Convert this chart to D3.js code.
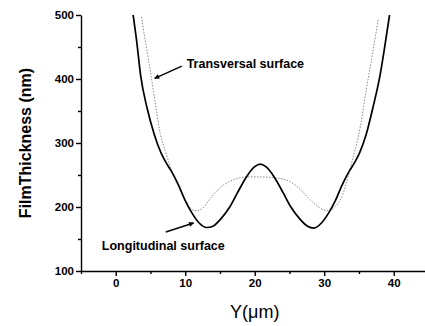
<!DOCTYPE html>
<html>
<head>
<meta charset="utf-8">
<script src="https://cdn.jsdelivr.net/npm/d3@7"></script>
<style>
  body { margin: 0; background: #fff; }
  svg { display: block; font-family: Arial, "Liberation Sans", sans-serif; }
</style>
</head>
<body>
<svg id="chart"></svg>
<script>
// film thickness (nm) vs Y (um)
const longitudinalY = [2.5, 3.0, 3.6, 4.5, 5.5, 6.5, 7.2, 8.0, 9.0, 10.0, 11.0, 12.0, 13.1, 14.0, 15.0, 16.4, 17.5, 18.8, 20.0, 20.8,
  21.6, 22.8, 24.1, 25.2, 26.6, 27.6, 28.5, 29.6, 30.6, 31.6, 32.6, 33.6, 34.4, 35.1, 36.0, 37.0, 38.0, 38.7, 39.4];
const longitudinalT = [500, 460, 404, 355, 315, 285, 270, 256, 235, 210, 190, 175, 168, 170, 180, 200, 222, 247, 263, 267,
  263, 247, 222, 200, 180, 170, 167, 175, 190, 210, 235, 256, 270, 285, 312, 355, 404, 450, 500];

const transversalY = [3.7, 4.4, 5.1, 5.8, 6.4, 7.2, 8.3, 9.5, 10.5, 11.4, 12.5, 13.5, 15.0, 16.4, 17.6, 19.0, 20.75,
  22.5, 24.0, 25.0, 26.5, 28.0, 29.3, 30.6, 31.5, 32.5, 33.5, 34.2, 34.7, 35.2, 36.0, 36.8, 37.8];
const transversalT = [497, 450, 404, 355, 315, 285, 250, 222, 202, 194, 198, 212, 230, 240, 245, 247, 247,
  246, 244, 240, 228, 211, 199, 194, 200, 215, 250, 280, 300, 326, 380, 430, 495];

const xTicks = [0, 10, 20, 30, 40];
const yTicks = [100, 200, 300, 400, 500];

// labels: text anchor and arrow tail -> tip, in data units
const labels = [
  { text: 'Transversal surface', x: 10.2, y: 417, from: [9.5, 420], to: [5.6, 401] },
  { text: 'Longitudinal surface', x: -2.0, y: 133, from: [7.2, 161], to: [11.2, 175] }
];

const W = 425, H = 326;
const margin = { top: 15, left: 81, bottom: 55 };

const svg = d3.select('#chart').attr('width', W).attr('height', H);

const x = d3.scaleLinear().domain([-5, 44.5]).range([margin.left, W]);
const y = d3.scaleLinear().domain([100, 500]).range([H - margin.bottom, margin.top]);

svg.append('defs').append('marker')
  .attr('id', 'head')
  .attr('viewBox', '0 0 10 10')
  .attr('refX', 9).attr('refY', 5)
  .attr('markerWidth', 7).attr('markerHeight', 5)
  .attr('markerUnits', 'userSpaceOnUse')
  .attr('orient', 'auto')
  .append('path').attr('d', 'M0,0L10,5L0,10Z').attr('fill', '#000');

// minor ticks
const minorX = d3.range(-5, 45, 5).filter(v => !xTicks.includes(v));
const minorY = d3.range(150, 500, 100);

const xAxis = d3.axisBottom(x).tickValues(xTicks).tickSize(5).tickPadding(3).tickSizeOuter(0);
const yAxis = d3.axisLeft(y).tickValues(yTicks).tickSize(5).tickPadding(2).tickSizeOuter(0);

svg.append('g').attr('transform', `translate(0,${y(100)})`).call(xAxis);
svg.append('g').attr('transform', `translate(${x(-5)},0)`).call(yAxis);

svg.append('g').attr('transform', `translate(0,${y(100)})`)
  .call(d3.axisBottom(x).tickValues(minorX).tickSize(3).tickFormat(''))
  .call(g => g.select('.domain').remove());
svg.append('g').attr('transform', `translate(${x(-5)},0)`)
  .call(d3.axisLeft(y).tickValues(minorY).tickSize(3).tickFormat(''))
  .call(g => g.select('.domain').remove());

svg.selectAll('.domain, .tick line').attr('stroke', '#000').attr('stroke-width', 1.4);
svg.selectAll('.tick text')
  .attr('font-size', 11.5)
  .attr('font-weight', 'bold')
  .attr('fill', '#000');
svg.selectAll('text').attr('font-family', 'Arial, "Liberation Sans", sans-serif');

// axis titles
svg.append('text')
  .attr('x', x(20)).attr('y', 318)
  .attr('text-anchor', 'middle')
  .attr('font-size', 18)
  .text('Y(\u03bcm)');

svg.append('text')
  .attr('transform', `translate(31,${(y(100) + y(500)) / 2}) rotate(-90)`)
  .attr('text-anchor', 'middle')
  .attr('font-size', 16)
  .attr('font-weight', 'bold')
  .text('FilmThickness (nm)');

// curves
const line = d3.line()
  .x(d => x(d[0]))
  .y(d => y(d[1]))
  .curve(d3.curveMonotoneX);

svg.append('path')
  .datum(d3.zip(transversalY, transversalT))
  .attr('fill', 'none')
  .attr('stroke', '#8a8a8a')
  .attr('stroke-width', 1)
  .attr('stroke-dasharray', '1.5,1.5')
  .attr('d', line);

svg.append('path')
  .datum(d3.zip(longitudinalY, longitudinalT))
  .attr('fill', 'none')
  .attr('stroke', '#000')
  .attr('stroke-width', 1.7)
  .attr('d', line);

// annotations
labels.forEach(l => {
  svg.append('line')
    .attr('x1', x(l.from[0])).attr('y1', y(l.from[1]))
    .attr('x2', x(l.to[0])).attr('y2', y(l.to[1]))
    .attr('stroke', '#000').attr('stroke-width', 1.4)
    .attr('marker-end', 'url(#head)');
  svg.append('text')
    .attr('x', x(l.x)).attr('y', y(l.y))
    .attr('font-size', 12.5)
    .attr('font-weight', 'bold')
    .text(l.text);
});
</script>
</body>
</html>
